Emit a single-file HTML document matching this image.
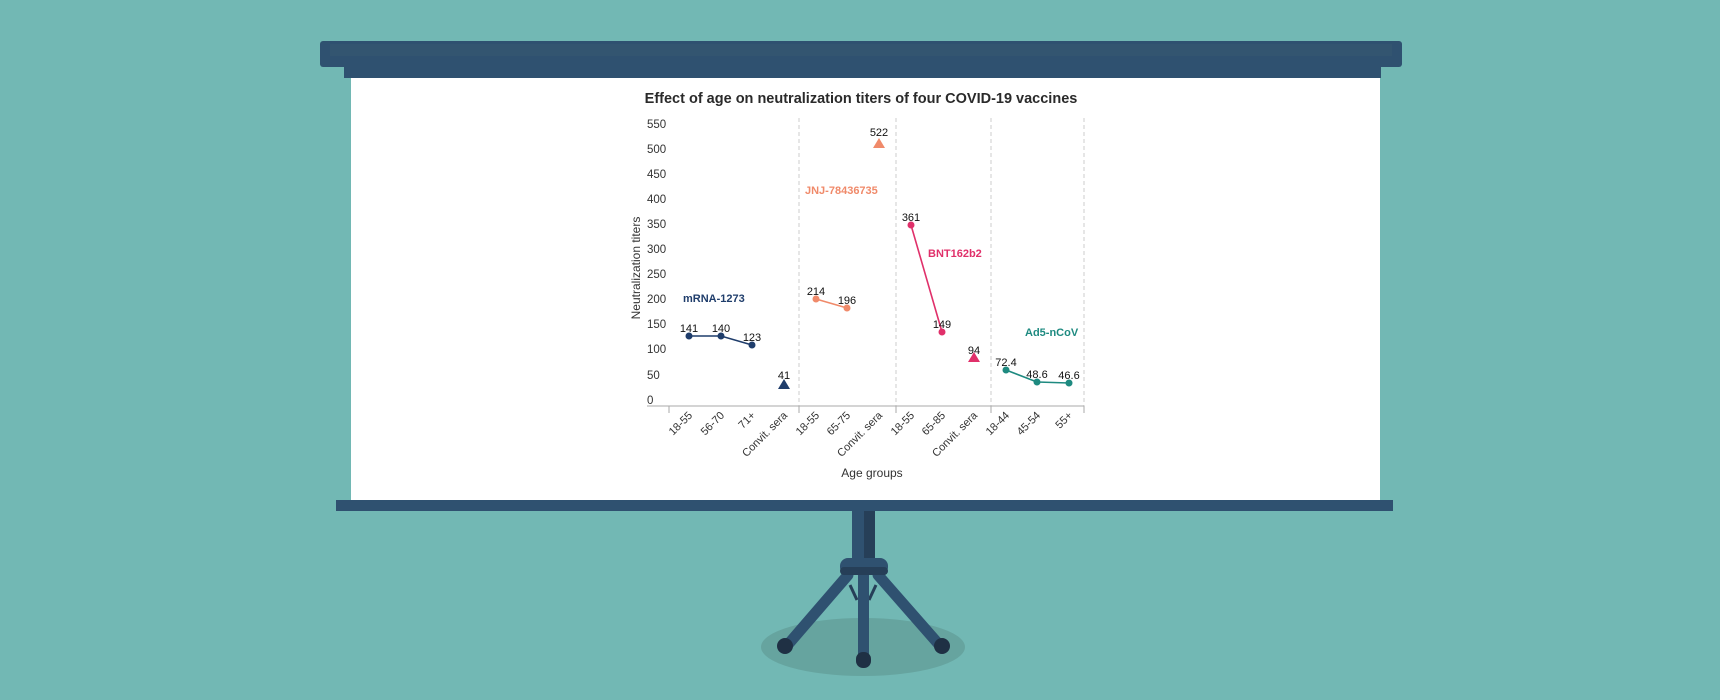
<!DOCTYPE html>
<html><head><meta charset="utf-8"><style>
html,body{margin:0;padding:0;background:#72b8b4;}
svg{display:block;font-family:"Liberation Sans",sans-serif;}
</style></head><body>
<svg width="1720" height="700" viewBox="0 0 1720 700" xmlns="http://www.w3.org/2000/svg">
<rect width="1720" height="700" fill="#72b8b4"/>
<ellipse cx="863" cy="647" rx="102" ry="29" fill="#66a49f"/>
<rect x="852" y="511" width="23" height="52" fill="#2f5170"/>
<rect x="864" y="511" width="11" height="52" fill="#263f58"/>
<line x1="848" y1="575" x2="785" y2="648" stroke="#2f5170" stroke-width="11" stroke-linecap="round"/>
<line x1="878" y1="575" x2="942" y2="648" stroke="#2f5170" stroke-width="11" stroke-linecap="round"/>
<line x1="850" y1="585" x2="857" y2="600" stroke="#263f58" stroke-width="3"/>
<line x1="876" y1="585" x2="869" y2="600" stroke="#263f58" stroke-width="3"/>
<rect x="858" y="570" width="11" height="90" fill="#2f5170"/>
<rect x="840" y="558" width="48" height="17" rx="8" fill="#2f5170"/>
<rect x="840" y="567" width="48" height="8" rx="4" fill="#263f58"/>
<circle cx="785" cy="646" r="8" fill="#1f3044"/>
<circle cx="942" cy="646" r="8" fill="#1f3044"/>
<rect x="856" y="652" width="15" height="16" rx="7" fill="#1f3044"/>
<rect x="320" y="41" width="1082" height="26" rx="3" fill="#2f5170"/>
<rect x="330" y="44" width="1062" height="12" fill="#335570"/>
<rect x="344" y="67" width="1037" height="11" fill="#2f5170"/>
<rect x="351" y="78" width="1029" height="422" fill="#ffffff"/>
<rect x="336" y="500" width="1057" height="11" fill="#2f5170"/>
<text x="861" y="103" text-anchor="middle" font-size="14.5" font-weight="bold" fill="#2a2a2a">Effect of age on neutralization titers of four COVID-19 vaccines</text>
<g font-size="11.5" fill="#333">
<text x="647" y="128">550</text><text x="647" y="153">500</text><text x="647" y="178">450</text>
<text x="647" y="203">400</text><text x="647" y="228">350</text><text x="647" y="253">300</text>
<text x="647" y="278">250</text><text x="647" y="303">200</text><text x="647" y="328">150</text>
<text x="647" y="353">100</text><text x="647" y="379">50</text><text x="647" y="404">0</text>
</g>
<text transform="translate(640,268) rotate(-90)" text-anchor="middle" font-size="12" fill="#333">Neutralization titers</text>
<g stroke="#ccc" stroke-dasharray="4,3" stroke-width="1">
<line x1="799" y1="118" x2="799" y2="406"/><line x1="896" y1="118" x2="896" y2="406"/>
<line x1="991" y1="118" x2="991" y2="406"/><line x1="1084" y1="118" x2="1084" y2="406"/>
</g>
<line x1="647" y1="406" x2="1084" y2="406" stroke="#aaa"/>
<g stroke="#aaa"><line x1="669" y1="406" x2="669" y2="413"/><line x1="799" y1="406" x2="799" y2="413"/><line x1="896" y1="406" x2="896" y2="413"/><line x1="991" y1="406" x2="991" y2="413"/><line x1="1084" y1="406" x2="1084" y2="413"/></g>
<g font-size="11" fill="#333" text-anchor="end">
<text transform="translate(693,416) rotate(-45)">18-55</text>
<text transform="translate(725,416) rotate(-45)">56-70</text>
<text transform="translate(756,416) rotate(-45)">71+</text>
<text transform="translate(788,416) rotate(-45)">Convit. sera</text>
<text transform="translate(820,416) rotate(-45)">18-55</text>
<text transform="translate(851,416) rotate(-45)">65-75</text>
<text transform="translate(883,416) rotate(-45)">Convit. sera</text>
<text transform="translate(915,416) rotate(-45)">18-55</text>
<text transform="translate(946,416) rotate(-45)">65-85</text>
<text transform="translate(978,416) rotate(-45)">Convit. sera</text>
<text transform="translate(1010,416) rotate(-45)">18-44</text>
<text transform="translate(1041,416) rotate(-45)">45-54</text>
<text transform="translate(1073,416) rotate(-45)">55+</text>
</g>
<text x="872" y="477" text-anchor="middle" font-size="12" fill="#333">Age groups</text>
<polyline points="689,336 721,336 752,345" fill="none" stroke="#1f3d6b" stroke-width="1.6"/>
<g fill="#1f3d6b"><circle cx="689" cy="336" r="3.5"/><circle cx="721" cy="336" r="3.5"/><circle cx="752" cy="345" r="3.5"/><polygon points="784,379 778,389 790,389"/></g>
<polyline points="816,299 847,308" fill="none" stroke="#f08a6a" stroke-width="1.6"/>
<g fill="#f08a6a"><circle cx="816" cy="299" r="3.5"/><circle cx="847" cy="308" r="3.5"/><polygon points="879,138 873,148 885,148"/></g>
<polyline points="911,225 942,332" fill="none" stroke="#e0306a" stroke-width="1.6"/>
<g fill="#e0306a"><circle cx="911" cy="225" r="3.5"/><circle cx="942" cy="332" r="3.5"/><polygon points="974,352 968,362 980,362"/></g>
<polyline points="1006,370 1037,382 1069,383" fill="none" stroke="#1e8a80" stroke-width="1.6"/>
<g fill="#1e8a80"><circle cx="1006" cy="370" r="3.5"/><circle cx="1037" cy="382" r="3.5"/><circle cx="1069" cy="383" r="3.5"/></g>
<g font-size="11" fill="#111" text-anchor="middle">
<text x="689" y="332">141</text><text x="721" y="332">140</text><text x="752" y="341">123</text><text x="784" y="379">41</text>
<text x="816" y="295">214</text><text x="847" y="304">196</text><text x="879" y="136">522</text>
<text x="911" y="221">361</text><text x="942" y="328">149</text><text x="974" y="354">94</text>
<text x="1006" y="366">72.4</text><text x="1037" y="378">48.6</text><text x="1069" y="379">46.6</text>
</g>
<g font-size="11" font-weight="bold">
<text x="683" y="302" fill="#1f3d6b">mRNA-1273</text>
<text x="805" y="194" fill="#f08a6a">JNJ-78436735</text>
<text x="928" y="257" fill="#e0306a">BNT162b2</text>
<text x="1025" y="336" fill="#1e8a80">Ad5-nCoV</text>
</g>
</svg>
</body></html>
